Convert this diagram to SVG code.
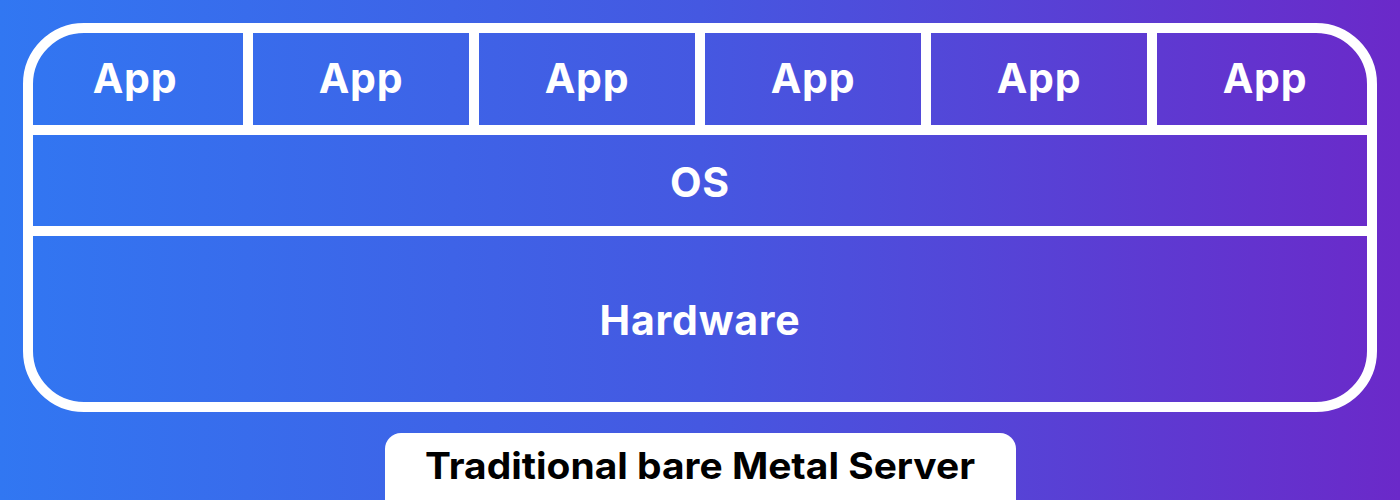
<svg xmlns="http://www.w3.org/2000/svg" width="1400" height="500" viewBox="0 0 1400 500">
  <defs>
    <linearGradient id="bg" x1="0" y1="0" x2="1" y2="0">
      <stop offset="0" stop-color="#3177F2"/>
      <stop offset="0.5" stop-color="#4558E1"/>
      <stop offset="1" stop-color="#6B29C9"/>
    </linearGradient>
    <style>
      .line{stroke:#fff;stroke-width:10;fill:none}
      .lbl{font-family:Inter,"Liberation Sans",sans-serif;font-weight:700;font-size:41px;letter-spacing:0.8px;fill:#fff;text-anchor:middle;dominant-baseline:central}
      .cap{font-family:Inter,"Liberation Sans",Arial,sans-serif;font-weight:700;font-size:37px;fill:#000;text-anchor:middle}
    </style>
  </defs>
  <rect width="1400" height="500" fill="url(#bg)"/>
  <g id="server">
    <rect class="line" x="28" y="28" width="1344" height="379" rx="56"/>
  </g>
  <g id="connectors">
    <line class="line" x1="28" y1="130" x2="1372" y2="130"/>
    <line class="line" x1="28" y1="231" x2="1372" y2="231"/>
    <line class="line" x1="248" y1="28" x2="248" y2="130"/>
    <line class="line" x1="474" y1="28" x2="474" y2="130"/>
    <line class="line" x1="700" y1="28" x2="700" y2="130"/>
    <line class="line" x1="926" y1="28" x2="926" y2="130"/>
    <line class="line" x1="1152" y1="28" x2="1152" y2="130"/>
  </g>
  <g id="app1"><text class="lbl" x="135" y="78">App</text></g>
  <g id="app2"><text class="lbl" x="361" y="78">App</text></g>
  <g id="app3"><text class="lbl" x="587" y="78">App</text></g>
  <g id="app4"><text class="lbl" x="813" y="78">App</text></g>
  <g id="app5"><text class="lbl" x="1039" y="78">App</text></g>
  <g id="app6"><text class="lbl" x="1265" y="78">App</text></g>
  <g id="os"><text class="lbl" x="700" y="182">OS</text></g>
  <g id="hardware"><text class="lbl" x="700" y="320">Hardware</text></g>
  <g id="caption">
    <rect x="385" y="433" width="631" height="90" rx="16" fill="#fff"/>
    <text class="cap" x="700" y="479" textLength="550" lengthAdjust="spacingAndGlyphs">Traditional bare Metal Server</text>
  </g>
</svg>
